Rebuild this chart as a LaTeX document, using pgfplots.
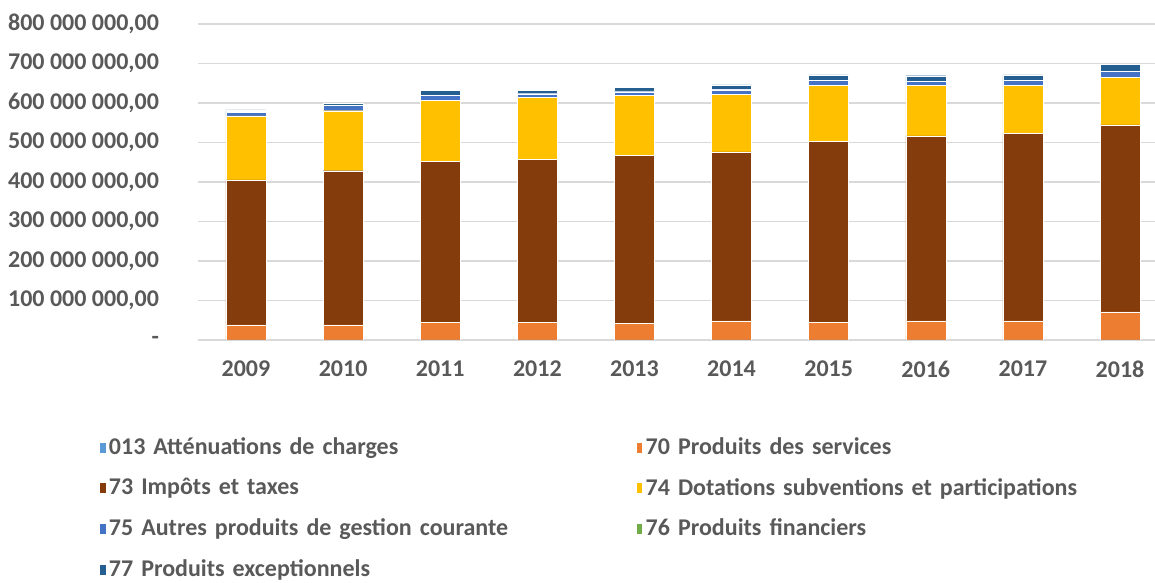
\documentclass[border=0pt]{standalone}
\usepackage{fontspec}
\setmainfont{Carlito}
\usepackage{pgfplots}
\pgfplotsset{compat=1.18}
\usetikzlibrary{calc}

\definecolor{txt}{HTML}{595959}
\definecolor{gridc}{HTML}{D9D9D9}
\definecolor{c013}{HTML}{5B9BD5}
\definecolor{c70}{HTML}{ED7D31}
\definecolor{c73}{HTML}{843C0C}
\definecolor{c74}{HTML}{FFC000}
\definecolor{c75}{HTML}{4472C4}
\definecolor{c76}{HTML}{70AD47}
\definecolor{c77}{HTML}{255E91}

\begin{document}
\begin{tikzpicture}
\begin{axis}[
    name=ax,
    ybar stacked,
    scale only axis,
    width=478.5pt, height=158pt,
    bar width=0.412,
    xmin=-0.494, xmax=9.36,
    ymin=0, ymax=800000000,
    xtick={0,...,9},
    xticklabels={2009,2010,2011,2012,2013,2014,2015,2016,2017,2018},
    ytick={0,100000000,200000000,300000000,400000000,500000000,600000000,700000000,800000000},
    yticklabels={{-\hspace{7pt}},{100 000 000,00},{200 000 000,00},{300 000 000,00},{400 000 000,00},{500 000 000,00},{600 000 000,00},{700 000 000,00},{800 000 000,00}},
    scaled y ticks=false,
    axis line style={draw=none},
    major tick length=0pt,
    ymajorgrids,
    grid style={gridc, line width=0.8pt},
    ticklabel style={font=\fontsize{12}{14}\selectfont\bfseries, text=txt},
    yticklabel style={xshift=-16pt},
    xticklabel style={yshift=-7pt},
    legend columns=2,
    legend cell align=left,
    legend style={
        at={(-0.11,-0.285)}, anchor=north west,
        draw=none, fill=none,
        font=\fontsize{12}{14}\selectfont\bfseries, text=txt,
        row sep=7.4pt,
        nodes={inner sep=1.5pt, text width=262pt},
    },
    legend image code/.code={\fill[#1] (0pt,-2.8pt) rectangle (3.2pt,2.8pt);},
    every axis plot/.append style={draw=white, line width=0.2pt},
]
% 013 Attenuations de charges
\addplot[fill=c013] coordinates {(0,500000) (1,500000) (2,500000) (3,500000) (4,500000) (5,500000) (6,500000) (7,500000) (8,500000) (9,500000)};
% 70 Produits des services
\addplot[fill=c70] coordinates {(0,38000000) (1,38000000) (2,45000000) (3,45000000) (4,42000000) (5,48000000) (6,45000000) (7,48000000) (8,48000000) (9,71000000)};
% 73 Impots et taxes
\addplot[fill=c73] coordinates {(0,367000000) (1,390000000) (2,406000000) (3,412000000) (4,425000000) (5,428000000) (6,458000000) (7,468000000) (8,474000000) (9,473000000)};
% 74 Dotations
\addplot[fill=c74] coordinates {(0,162000000) (1,152000000) (2,155000000) (3,156000000) (4,151000000) (5,146000000) (6,142000000) (7,129000000) (8,123000000) (9,120000000)};
% 75 Autres produits
\addplot[fill=c75] coordinates {(0,8000000) (1,13000000) (2,12000000) (3,10000000) (4,10000000) (5,11000000) (6,11000000) (7,9000000) (8,11000000) (9,16000000)};
% 76 Produits financiers
\addplot[fill=c76] coordinates {(0,3000000) (1,2000000) (2,500000) (3,1000000) (4,2500000) (5,1500000) (6,500000) (7,500000) (8,500000) (9,500000)};
% 77 Produits exceptionnels
\addplot[fill=c77] coordinates {(0,4000000) (1,3000000) (2,13000000) (3,8000000) (4,9000000) (5,11000000) (6,14000000) (7,14000000) (8,14000000) (9,16000000)};
\legend{013 Atténuations de charges, 70 Produits des services, 73 Impôts et taxes, 74 Dotations subventions et participations, 75 Autres produits de gestion courante, 76 Produits financiers, 77 Produits exceptionnels}
\coordinate (bl) at (rel axis cs:0,0);
\coordinate (tr) at (rel axis cs:1,1);
\end{axis}
\pgfresetboundingbox
\path ($(bl)+(-99pt,-121.5pt)$) rectangle ($(tr)+(0,12pt)$);
\end{tikzpicture}
\end{document}
